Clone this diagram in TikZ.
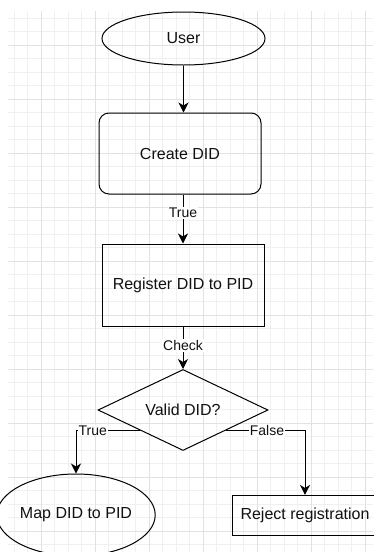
\documentclass[tikz,border=0pt]{standalone}
\usepackage{fontspec}
\setmainfont{Liberation Sans}
\usetikzlibrary{shapes.geometric,arrows.meta}
\definecolor{gridminor}{HTML}{F0F0F0}
\definecolor{gridmajor}{HTML}{E2E2E2}
\definecolor{ink}{HTML}{111111}
\tikzset{
  base/.style={draw=black, line width=1pt, text=ink, inner sep=0pt,
    font=\fontsize{16}{19}\selectfont},
  ellipsebox/.style={base, ellipse},
  roundbox/.style={base, rectangle, rounded corners=10pt},
  plainbox/.style={base, rectangle},
  decisionbox/.style={base, diamond, aspect=2.1},
  flow/.style={draw=black, line width=1pt,
    -{Stealth[length=10pt,width=10pt,inset=3pt]}},
  edgelabel/.style={fill=white, text=ink, inner sep=1pt,
    font=\fontsize{14}{16}\selectfont}
}
\begin{document}
\begin{tikzpicture}[x=1pt,y=-1pt]
\useasboundingbox (0,0) rectangle (373,552);
\fill[white] (0,0) rectangle (373,552);
% grid
\begin{scope}
\clip (8,11) rectangle (373,552);
\foreach \i in {0,...,28} {
  \draw[gridminor, line width=0.8pt] ({14+13.5*\i},11) -- ({14+13.5*\i},552);
}
\foreach \i in {0,...,40} {
  \draw[gridminor, line width=0.8pt] (8,{18+13.5*\i}) -- (373,{18+13.5*\i});
}
\foreach \i in {0,...,6} {
  \draw[gridmajor, line width=0.9pt] ({41+54*\i},11) -- ({41+54*\i},552);
}
\foreach \i in {0,...,9} {
  \draw[gridmajor, line width=0.9pt] (8,{45+54*\i}) -- (373,{45+54*\i});
}
\end{scope}
% nodes
\node[ellipsebox, minimum width=163pt, minimum height=53pt] (user) at (183.5,38.5) {User};
\node[roundbox, minimum width=162pt, minimum height=81pt] (create) at (180,153.5) {Create DID};
\node[plainbox, minimum width=162pt, minimum height=82pt] (register) at (183,285) {Register DID to PID};
\node[decisionbox, minimum width=170pt, minimum height=81pt] (valid) at (183,410) {Valid DID?};
\node[ellipsebox, minimum width=136pt, minimum height=82pt] (map) at (76,515) {Map DID to PID};
\node[plainbox, minimum width=146pt, minimum height=40.5pt] (reject) at (305,515.7) {Reject registration};
% connectors
\draw[flow] (user.south) -- (user.south |- create.north);
\draw[flow] (create.south -| register.north) -- (register.north)
  node[edgelabel, pos=0.38] {True};
\draw[flow] (register.south) -- (valid.north)
  node[edgelabel, pos=0.45] {Check};
\draw[flow] (valid.south west) -| (map.north)
  node[edgelabel, pos=0.37] {True};
\draw[flow] (valid.south east) -| (reject.north)
  node[edgelabel, pos=0.26] {False};
\end{tikzpicture}
\end{document}
